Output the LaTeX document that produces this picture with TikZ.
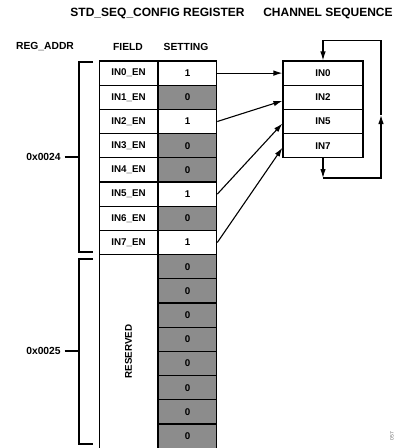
\documentclass[tikz,border=0pt]{standalone}
\usepackage{fontspec}
\setmainfont{Liberation Sans}
\usetikzlibrary{arrows.meta}

\begin{document}
\begin{tikzpicture}[x=1pt,y=-1pt,font=\bfseries,line width=1.1pt,
  cell/.style={draw,minimum width=58.5pt,minimum height=24.2pt,inner sep=0pt,font=\fontsize{9.8}{10}\selectfont\bfseries},
  off/.style={cell,fill=black!45},
  seqbox/.style={draw,minimum width=80pt,minimum height=24.2pt,inner sep=0pt,font=\fontsize{9.8}{10}\selectfont\bfseries},
  hdr/.style={font=\fontsize{10.3}{12}\selectfont\bfseries},
  ttl/.style={font=\fontsize{12}{14}\selectfont\bfseries},
  arr/.style={-{Latex[length=9pt,width=5.5pt]}}]
\useasboundingbox(0,0)rectangle(399,448);
\node[ttl](t1)at(157.5,13){STD\_SEQ\_CONFIG REGISTER};\node[ttl](t2)at(328,13){CHANNEL SEQUENCE};
\node[hdr](h1)at(45,47){REG\_ADDR};\node[hdr](h2)at(128,47){FIELD};\node[hdr](h3)at(186,47){SETTING};
% register bits
\foreach \i/\v/\st in {0/1/cell,1/0/off,2/1/cell,3/0/off,4/0/off,5/1/cell,6/0/off,7/1/cell}{
  \node[cell](f\i)at(128.5,73.1+24.2*\i){IN\i\_EN};\node[\st](s\i)at(187.5,73.1+24.2*\i){\v};}
\node[cell,minimum width=193.6pt,minimum height=58.5pt,rotate=90](res)at(128.5,351.4){RESERVED};
\foreach \i in {8,...,15}\node[off](s\i)at(187.5,73.1+24.2*\i){0};
% channel sequence
\foreach \i/\c in {0/0,1/2,2/5,3/7}\node[seqbox](c\i)at(323,73.1+24.2*\i){IN\c};
\draw[arr](s0)--(c0);\draw[arr](s2.east)--([yshift=-3.5pt]c1.west);
\draw[arr](s5.east)--([yshift=-2pt]c2.west);\draw[arr](s7.east)--([yshift=-2pt]c3.west);
\coordinate(lt)at(323,40.7);\coordinate(rt)at(381,40.7);\coordinate(rb)at(381,178);\coordinate(lb)at(323,178);\coordinate(rm)at(381,115);
\draw[arr](c3)--(lb);\draw[arr](lb)--(rb)--(rm);\draw[arr](rm)--(rt)--(lt)--(c0);
% address brackets
\node[hdr](a24)at(43.5,157){0x0024};\node[hdr](a25)at(43.5,351){0x0025};
\coordinate(b24)at(79,157);\coordinate(b25)at(79,351);
\draw(93,62)--(79,62)--(79,252)--(93,252);\draw(a24)--(b24);
\draw(93,259)--(79,259)--(79,444)--(93,444);\draw(a25)--(b25);
\node[rotate=90,font=\fontsize{5}{5}\selectfont,text=black!60](fig)at(392,436){057};
\end{tikzpicture}
\end{document}
